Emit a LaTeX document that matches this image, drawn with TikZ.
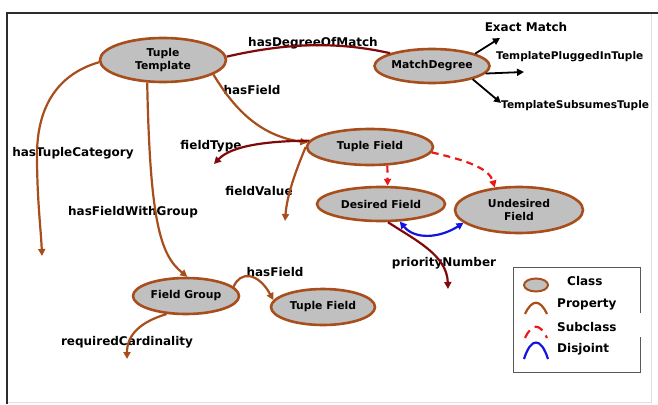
\documentclass[tikz,border=0pt]{standalone}
\usepackage{fontspec}
\setmainfont{DejaVu Sans}
\usetikzlibrary{shapes.geometric,arrows.meta}
\definecolor{brownedge}{RGB}{168,78,28}
\definecolor{maroonedge}{RGB}{128,10,10}
\definecolor{classfill}{RGB}{192,192,192}
\definecolor{subred}{RGB}{235,25,25}
\definecolor{disblue}{RGB}{20,20,225}
\definecolor{framegray}{RGB}{45,45,45}
\tikzset{
  cls/.style={ellipse, draw=brownedge, line width=2.6pt, fill=classfill, inner sep=0pt,
    align=center, font=\bfseries\fontsize{10.8}{12.5}\selectfont},
  lbl/.style={font=\bfseries\fontsize{12}{14}\selectfont, inner sep=0pt},
  rlbl/.style={font=\bfseries\fontsize{10.6}{12}\selectfont, inner sep=0pt, anchor=west},
  prop/.style={draw=brownedge, line width=2.2pt, -{Triangle[length=7pt,width=7pt]}},
  mprop/.style={draw=maroonedge, line width=2.2pt, -{Triangle[length=7pt,width=7pt]}},
  subc/.style={draw=subred, line width=2.2pt, dash pattern=on 7pt off 5pt, -{Triangle[length=7pt,width=7pt]}},
  disj/.style={draw=disblue, line width=2.2pt, {Triangle[length=7pt,width=7pt]}-{Triangle[length=7pt,width=7pt]}},
  inst/.style={draw=black, line width=1.8pt, -{Triangle[length=7pt,width=7pt]}},
}
\begin{document}
\begin{tikzpicture}[x=1pt,y=-1pt]
\useasboundingbox (0,0) rectangle (658,404);
\fill[white] (0,0) rectangle (658,404);
% frame
\draw[gray!25, line width=1pt] (651,14) -- (651,402) -- (7,402);
\draw[framegray, line width=2pt] (658,13) -- (7,13) -- (7,404);

% labels (drawn beneath lines)
\node[lbl] (l1) at (313,43) {hasDegreeOfMatch};
\node[lbl] (l2) at (252,90) {hasField};
\node[lbl] (l3) at (73,153) {hasTupleCategory};
\node[lbl] (l4) at (211,146) {fieldType};
\node[lbl] (l5) at (259,191) {fieldValue};
\node[lbl] (l6) at (133,212) {hasFieldWithGroup};
\node[lbl] (l7) at (275,272) {hasField};
\node[lbl] (l8) at (127,342) {requiredCardinality};
\node[lbl] (l9) at (444,263) {priorityNumber};
\node[lbl] (l10) at (526,27) {Exact Match};
\node[rlbl] (l11) at (496,57) {TemplatePluggedInTuple};
\node[rlbl] (l12) at (501,106) {TemplateSubsumesTuple};

% classes
\node[cls, minimum width=126pt, minimum height=44pt] (tt) at (163,60) {Tuple\\Template};
\node[cls, minimum width=114pt, minimum height=34pt] (md) at (432,66) {MatchDegree};
\node[cls, minimum width=126pt, minimum height=36pt] (tf) at (370,147) {Tuple Field};
\node[cls, minimum width=128pt, minimum height=34pt] (df) at (381,204) {Desired Field};
\node[cls, minimum width=128pt, minimum height=46pt] (uf) at (519,210) {Undesired\\Field};
\node[cls, minimum width=106pt, minimum height=36pt] (fg) at (186,296) {Field Group};
\node[cls, minimum width=104pt, minimum height=36pt] (tf2) at (323,307) {Tuple Field};

% free ends
\coordinate (em) at (500,38);
\coordinate (tp) at (524,72);
\coordinate (ts) at (501,103);
\coordinate (hc) at (42,256);
\coordinate (ftE) at (214,164);
\coordinate (fvE) at (285,221);
\coordinate (pnE) at (448,289);
\coordinate (rcE) at (127,359);

% edges
\draw[draw=maroonedge, line width=2.2pt] (tt.3) .. controls (290,42) and (340,42) .. (md.163);
\draw[prop] (tt.-16) .. controls (236,112) and (262,136) .. (tf.176);
\draw[prop] (tt.182) .. controls (55,75) and (37,110) .. (37,155) .. controls (37,200) and (41,230) .. (hc);
\draw[prop] (tt.-125) .. controls (150,220) and (160,255) .. (fg.86);
\draw[mprop] (tf.174) .. controls (270,141) and (232,145) .. (ftE);
\draw[prop] (tf.180) .. controls (296,170) and (287,195) .. (fvE);
\draw[subc] (tf.-47) -- (df.70);
\draw[subc] (tf.-5) .. controls (465,160) and (489,168) .. (uf.137);
\draw[disj] (df.-43) .. controls (415,240) and (440,238) .. (uf.-167);
\draw[mprop] (df.-69) .. controls (415,240) and (447,255) .. (pnE);
\draw[prop] (fg.11) .. controls (240,271) and (258,272) .. (tf2.172);
\draw[prop] (fg.-137) .. controls (140,322) and (127,335) .. (rcE);
\draw[inst] (md.16) -- (em);
\draw[inst] (md.-8) -- (tp);
\draw[inst] (md.-18) -- (ts);

% legend
\draw[gray!70!black, line width=1pt] (640,313) -- (640,267) -- (513,267) -- (513,372) -- (640,372) -- (640,337);
\node[ellipse, draw=brownedge, line width=2pt, fill=classfill, minimum width=24pt, minimum height=13pt, inner sep=0pt] (lgc) at (536,285) {};
\coordinate (pa) at (525,314); \coordinate (pb) at (547,314);
\draw[draw=brownedge, line width=2.2pt] (pa) .. controls (532,299) and (540,299) .. (pb);
\coordinate (sa) at (525,338); \coordinate (sb) at (547,338);
\draw[draw=subred, line width=2.2pt, dash pattern=on 9pt off 6pt] (sa) .. controls (532,323) and (540,323) .. (sb);
\coordinate (da) at (524,359); \coordinate (db) at (548,359);
\draw[draw=disblue, line width=2.2pt] (da) .. controls (531,337) and (541,337) .. (db);
\node[lbl, anchor=west] (lt1) at (567,281) {Class};
\node[lbl, anchor=west] (lt2) at (557,304) {Property};
\node[lbl, anchor=west] (lt3) at (557,327) {Subclass};
\node[lbl, anchor=west] (lt4) at (557,349) {Disjoint};
\end{tikzpicture}
\end{document}
